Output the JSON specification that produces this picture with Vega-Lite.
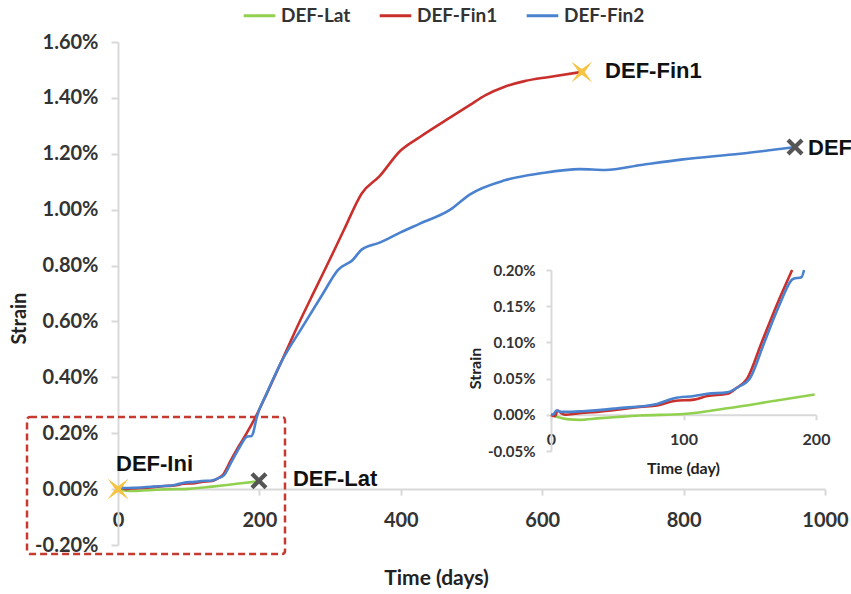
{
  "$schema": "https://vega.github.io/schema/vega-lite/v6.json",
  "width": 707,
  "height": 503,
  "autosize": "none",
  "padding": {"left": 118, "top": 42, "right": 26, "bottom": 49},
  "background": "white",
  "datasets": {
    "series": [
      {"series": "DEF-Lat", "day": 0, "strain": 0},
      {"series": "DEF-Lat", "day": 5, "strain": -0.003},
      {"series": "DEF-Lat", "day": 12, "strain": -0.006},
      {"series": "DEF-Lat", "day": 22, "strain": -0.007},
      {"series": "DEF-Lat", "day": 35, "strain": -0.005},
      {"series": "DEF-Lat", "day": 50, "strain": -0.003},
      {"series": "DEF-Lat", "day": 67, "strain": -0.001},
      {"series": "DEF-Lat", "day": 100, "strain": 0.001},
      {"series": "DEF-Lat", "day": 133, "strain": 0.009},
      {"series": "DEF-Lat", "day": 168, "strain": 0.019},
      {"series": "DEF-Lat", "day": 199, "strain": 0.028},
      {"series": "DEF-Fin1", "day": 0, "strain": 0},
      {"series": "DEF-Fin1", "day": 3, "strain": -0.002},
      {"series": "DEF-Fin1", "day": 5, "strain": 0.006},
      {"series": "DEF-Fin1", "day": 8, "strain": 0.002},
      {"series": "DEF-Fin1", "day": 11, "strain": 0.0},
      {"series": "DEF-Fin1", "day": 20, "strain": 0.002},
      {"series": "DEF-Fin1", "day": 35, "strain": 0.004},
      {"series": "DEF-Fin1", "day": 50, "strain": 0.007},
      {"series": "DEF-Fin1", "day": 67, "strain": 0.011},
      {"series": "DEF-Fin1", "day": 80, "strain": 0.013},
      {"series": "DEF-Fin1", "day": 93, "strain": 0.019},
      {"series": "DEF-Fin1", "day": 108, "strain": 0.021},
      {"series": "DEF-Fin1", "day": 118, "strain": 0.026},
      {"series": "DEF-Fin1", "day": 133, "strain": 0.029},
      {"series": "DEF-Fin1", "day": 140, "strain": 0.037},
      {"series": "DEF-Fin1", "day": 148, "strain": 0.05},
      {"series": "DEF-Fin1", "day": 159, "strain": 0.1},
      {"series": "DEF-Fin1", "day": 170, "strain": 0.15},
      {"series": "DEF-Fin1", "day": 182, "strain": 0.2},
      {"series": "DEF-Fin1", "day": 196, "strain": 0.265},
      {"series": "DEF-Fin1", "day": 210, "strain": 0.34},
      {"series": "DEF-Fin1", "day": 230, "strain": 0.45},
      {"series": "DEF-Fin1", "day": 257, "strain": 0.6},
      {"series": "DEF-Fin1", "day": 280, "strain": 0.72},
      {"series": "DEF-Fin1", "day": 304, "strain": 0.845},
      {"series": "DEF-Fin1", "day": 320, "strain": 0.93},
      {"series": "DEF-Fin1", "day": 345, "strain": 1.059},
      {"series": "DEF-Fin1", "day": 370, "strain": 1.12},
      {"series": "DEF-Fin1", "day": 399, "strain": 1.21},
      {"series": "DEF-Fin1", "day": 427, "strain": 1.26},
      {"series": "DEF-Fin1", "day": 470, "strain": 1.33},
      {"series": "DEF-Fin1", "day": 498, "strain": 1.375},
      {"series": "DEF-Fin1", "day": 520, "strain": 1.41},
      {"series": "DEF-Fin1", "day": 547, "strain": 1.44},
      {"series": "DEF-Fin1", "day": 575, "strain": 1.46},
      {"series": "DEF-Fin1", "day": 610, "strain": 1.475},
      {"series": "DEF-Fin1", "day": 656, "strain": 1.493},
      {"series": "DEF-Fin2", "day": 0, "strain": 0},
      {"series": "DEF-Fin2", "day": 2, "strain": 0.001},
      {"series": "DEF-Fin2", "day": 4, "strain": 0.006},
      {"series": "DEF-Fin2", "day": 8, "strain": 0.004},
      {"series": "DEF-Fin2", "day": 11, "strain": 0.004},
      {"series": "DEF-Fin2", "day": 24, "strain": 0.005},
      {"series": "DEF-Fin2", "day": 50, "strain": 0.009},
      {"series": "DEF-Fin2", "day": 80, "strain": 0.015},
      {"series": "DEF-Fin2", "day": 93, "strain": 0.023},
      {"series": "DEF-Fin2", "day": 108, "strain": 0.026},
      {"series": "DEF-Fin2", "day": 118, "strain": 0.029},
      {"series": "DEF-Fin2", "day": 133, "strain": 0.031},
      {"series": "DEF-Fin2", "day": 141, "strain": 0.038},
      {"series": "DEF-Fin2", "day": 150, "strain": 0.05},
      {"series": "DEF-Fin2", "day": 161, "strain": 0.1},
      {"series": "DEF-Fin2", "day": 172, "strain": 0.15},
      {"series": "DEF-Fin2", "day": 183, "strain": 0.188},
      {"series": "DEF-Fin2", "day": 189, "strain": 0.19},
      {"series": "DEF-Fin2", "day": 191, "strain": 0.2},
      {"series": "DEF-Fin2", "day": 196, "strain": 0.255},
      {"series": "DEF-Fin2", "day": 210, "strain": 0.34},
      {"series": "DEF-Fin2", "day": 230, "strain": 0.45},
      {"series": "DEF-Fin2", "day": 262, "strain": 0.585},
      {"series": "DEF-Fin2", "day": 290, "strain": 0.7},
      {"series": "DEF-Fin2", "day": 311, "strain": 0.784},
      {"series": "DEF-Fin2", "day": 332, "strain": 0.82},
      {"series": "DEF-Fin2", "day": 345, "strain": 0.858},
      {"series": "DEF-Fin2", "day": 370, "strain": 0.882},
      {"series": "DEF-Fin2", "day": 399, "strain": 0.918},
      {"series": "DEF-Fin2", "day": 427, "strain": 0.95},
      {"series": "DEF-Fin2", "day": 470, "strain": 1.0},
      {"series": "DEF-Fin2", "day": 498, "strain": 1.055},
      {"series": "DEF-Fin2", "day": 547, "strain": 1.105},
      {"series": "DEF-Fin2", "day": 598, "strain": 1.13},
      {"series": "DEF-Fin2", "day": 653, "strain": 1.145},
      {"series": "DEF-Fin2", "day": 689, "strain": 1.142},
      {"series": "DEF-Fin2", "day": 740, "strain": 1.16},
      {"series": "DEF-Fin2", "day": 799, "strain": 1.18},
      {"series": "DEF-Fin2", "day": 880, "strain": 1.2},
      {"series": "DEF-Fin2", "day": 957.6, "strain": 1.224}
    ],
    "markers": [
      {"kind": "star", "day": 0, "strain": 0},
      {"kind": "star", "day": 656, "strain": 1.493},
      {"kind": "x", "day": 199.4, "strain": 0.03},
      {"kind": "x", "day": 957.6, "strain": 1.224}
    ],
    "labels": [
      {"label": "DEF-Ini", "day": -2.8, "strain": 0.089},
      {"label": "DEF-Lat", "day": 247.5, "strain": 0.035},
      {"label": "DEF-Fin1", "day": 689, "strain": 1.497},
      {"label": "DEF-Fin2", "day": 976, "strain": 1.221}
    ],
    "box": [
      {"day": -128.7, "day2": 236.2, "strain": -0.232, "strain2": 0.258}
    ]
  },
  "layer": [
    {
      "encoding": {
        "x": {
          "field": "day", "type": "quantitative",
          "scale": {"domain": [0, 1000], "nice": false, "zero": false},
          "axis": {
            "orient": "bottom", "offset": -55.9, "values": [0, 200, 400, 600, 800, 1000], "format": "d",
            "title": "Time (days)", "titleX": 318, "titleY": 78, "titleAlign": "center", "titleBaseline": "top",
            "titleFontSize": 21, "labelFontSize": 20, "tickSize": 6, "labelPadding": 15
          }
        },
        "y": {
          "field": "strain", "type": "quantitative",
          "scale": {"domain": [-0.2, 1.6], "nice": false, "zero": false},
          "axis": {
            "orient": "left", "values": [-0.2, 0, 0.2, 0.4, 0.6, 0.8, 1, 1.2, 1.4, 1.6],
            "labelExpr": "(datum.value < 0 ? '-' : '') + format(abs(datum.value), '.2f') + '%'",
            "title": "Strain", "titleX": -99, "titleY": 276, "titleAngle": -90, "titleAlign": "center", "titleBaseline": "middle",
            "titleFontSize": 20, "labelFontSize": 20, "tickSize": 7, "labelPadding": 13
          }
        }
      },
      "layer": [
        {
          "data": {"name": "box"},
          "mark": {"type": "rect", "filled": false, "color": "#c73a30", "strokeWidth": 2.5, "strokeDash": [7, 4], "cornerRadius": 3},
          "encoding": {"x2": {"field": "day2"}, "y2": {"field": "strain2"}}
        },
        {
          "data": {"name": "series"},
          "mark": {"type": "line", "strokeWidth": 2.6, "interpolate": "monotone"},
          "encoding": {
            "color": {
              "field": "series", "type": "nominal",
              "scale": {"domain": ["DEF-Lat", "DEF-Fin1", "DEF-Fin2"], "range": ["#92d050", "#c9302c", "#4a82cf"]},
              "legend": {
                "title": null, "orient": "none", "legendX": 124, "legendY": -44, "direction": "horizontal",
                "symbolType": "stroke", "symbolSize": 1000, "symbolStrokeWidth": 3, "labelOffset": 4, "columnPadding": 22,
                "labelFont": "Lato", "labelFontSize": 19, "labelFontWeight": "bold", "labelColor": "#333333", "padding": 0
              }
            }
          }
        },
        {
          "data": {"name": "markers"},
          "transform": [{"filter": "datum.kind === 'star'"}],
          "mark": {"type": "point", "shape": "M-1,-1L-0.28,0L-1,1L0,0.28L1,1L0.28,0L1,-1L0,-0.28Z", "filled": true, "color": "#f6c343", "size": 441, "opacity": 1}
        },
        {
          "data": {"name": "markers"},
          "transform": [{"filter": "datum.kind === 'x'"}],
          "mark": {"type": "point", "shape": "M-0.65,-1L0,-0.35L0.65,-1L1,-0.65L0.35,0L1,0.65L0.65,1L0,0.35L-0.65,1L-1,0.65L-0.35,0L-1,-0.65Z", "filled": true, "color": "#555555", "size": 289, "opacity": 1}
        },
        {
          "data": {"name": "labels"},
          "mark": {"type": "text", "align": "left", "baseline": "middle", "font": "Liberation Sans", "fontSize": 22, "fontWeight": "bold", "color": "#111111"},
          "encoding": {"text": {"field": "label"}}
        }
      ]
    },
    {
      "data": {"name": "series"},
      "transform": [{"filter": "datum.day <= 200 && datum.strain <= 0.2001"}],
      "mark": {"type": "line", "strokeWidth": 2.6, "interpolate": "monotone"},
      "encoding": {
        "x": {
          "field": "day", "type": "quantitative",
          "scale": {"domain": [0, 200], "range": [433, 698], "nice": false, "zero": false},
          "axis": {
            "orient": "bottom", "offset": -130.2, "values": [0, 100, 200], "format": "d",
            "title": "Time (day)", "titleX": 565, "titleY": 46, "titleAlign": "center", "titleBaseline": "top",
            "titleFontSize": 16, "labelFontSize": 16, "tickSize": 5, "labelPadding": 12
          }
        },
        "y": {
          "field": "strain", "type": "quantitative",
          "scale": {"domain": [-0.05, 0.2], "range": [409, 228], "nice": false, "zero": false},
          "axis": {
            "orient": "left", "offset": -433, "values": [-0.05, 0, 0.05, 0.1, 0.15, 0.2],
            "labelExpr": "(datum.value < 0 ? '-' : '') + format(abs(datum.value), '.2f') + '%'",
            "title": "Strain", "titleX": -76, "titleY": 326, "titleAngle": -90, "titleAlign": "center", "titleBaseline": "middle",
            "titleFontSize": 16, "labelFontSize": 15, "tickSize": 5, "labelPadding": 11
          }
        },
        "color": {"field": "series", "type": "nominal"}
      }
    }
  ],
  "resolve": {
    "scale": {"x": "independent", "y": "independent"},
    "axis": {"x": "independent", "y": "independent"}
  },
  "config": {
    "view": {"stroke": null},
    "axis": {
      "grid": false, "labelFlush": false, "labelOverlap": false,
      "domainColor": "#d9d9d9", "domainWidth": 2,
      "tickColor": "#d9d9d9", "tickWidth": 2,
      "labelFont": "Lato", "labelFontWeight": "bold", "labelColor": "#333333",
      "titleFont": "Lato", "titleFontWeight": "bold", "titleColor": "#222222"
    }
  }
}
